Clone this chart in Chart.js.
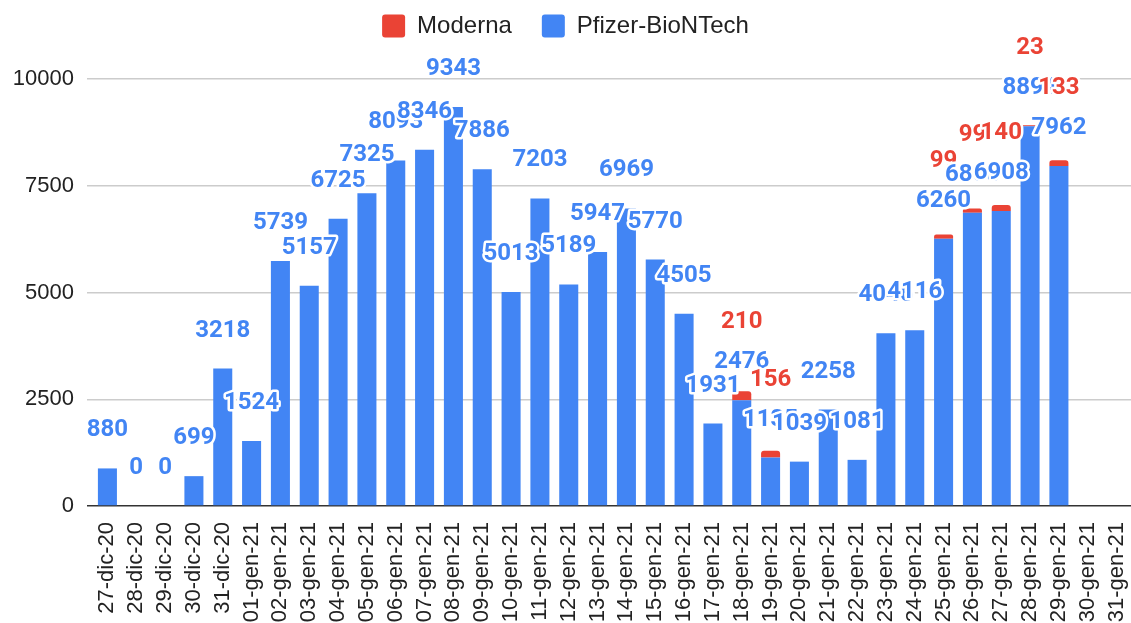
<!DOCTYPE html>
<html>
<head>
<meta charset="utf-8">
<script src="https://cdn.jsdelivr.net/npm/chart.js@4.4.1/dist/chart.umd.min.js"></script>
<style>
  html, body { margin: 0; padding: 0; background: #fff; }
  #wrap { width: 1131px; height: 623px; }
</style>
</head>
<body>
<div id="wrap"><canvas id="chart_vaccini"></canvas></div>
<script>
const giorni = ['27-dic-20', '28-dic-20', '29-dic-20', '30-dic-20', '31-dic-20',
    '01-gen-21', '02-gen-21', '03-gen-21', '04-gen-21', '05-gen-21', '06-gen-21', '07-gen-21',
    '08-gen-21', '09-gen-21', '10-gen-21', '11-gen-21', '12-gen-21', '13-gen-21', '14-gen-21',
    '15-gen-21', '16-gen-21', '17-gen-21', '18-gen-21', '19-gen-21', '20-gen-21', '21-gen-21',
    '22-gen-21', '23-gen-21', '24-gen-21', '25-gen-21', '26-gen-21', '27-gen-21', '28-gen-21',
    '29-gen-21', '30-gen-21', '31-gen-21'];

const pfizer = [880, 0, 0, 699, 3218, 1524, 5739, 5157, 6725, 7325, 8093, 8346,
    9343, 7886, 5013, 7203, 5189, 5947, 6969, 5770, 4505, 1931, 2476, 1135,
    1039, 2258, 1081, 4046, 4116, 6260, 6868, 6908, 8894, 7962, null, null];

const moderna = [null, null, null, null, null, null, null, null, null, null, null, null,
    null, null, null, null, null, null, null, null, null, null, 210, 156,
    null, null, null, null, null, 99, 99, 140, 23, 133, null, null];

const yTicks = [0, 2500, 5000, 7500, 10000];

const BLU = '#4285F4';
const ROSSO = '#EA4335';

// spazio tra legenda e grafico
const legendaMargine = {
    id: 'legendaMargine',
    beforeInit(chart) {
        const fit = chart.legend.fit;
        chart.legend.fit = function () {
            fit.bind(chart.legend)();
            this.height += 31;
        };
    }
};

// etichette dei valori sopra le barre (bianco intorno come in Sheets)
const etichette = {
    id: 'etichette',
    afterDatasetsDraw(chart) {
        const ctx = chart.ctx;
        const metaP = chart.getDatasetMeta(0);
        ctx.save();
        ctx.font = 'bold 24px Roboto';
        ctx.textAlign = 'center';
        ctx.textBaseline = 'middle';
        ctx.lineJoin = 'round';
        ctx.lineWidth = 5;
        ctx.strokeStyle = '#fff';
        pfizer.forEach((v, i) => {
            if (v === null) return;
            const bar = metaP.data[i];
            const x = bar.x;
            const y = bar.y - 38;
            ctx.strokeText(String(v), x, y);
            ctx.fillStyle = BLU;
            ctx.fillText(String(v), x, y);
            const m = moderna[i];
            if (m !== null) {
                ctx.strokeText(String(m), x, y - 40);
                ctx.fillStyle = ROSSO;
                ctx.fillText(String(m), x, y - 40);
            }
        });
        ctx.restore();
    }
};

new Chart(document.getElementById('chart_vaccini'), {
    type: 'bar',
    data: {
        labels: giorni,
        datasets: [{
            label: 'Pfizer-BioNTech',
            data: pfizer,
            backgroundColor: BLU,
            barPercentage: 0.66,
            categoryPercentage: 1
        }, {
            label: 'Moderna',
            data: moderna,
            backgroundColor: ROSSO,
            borderRadius: { topLeft: 3, topRight: 3 },
            borderSkipped: 'bottom',
            barPercentage: 0.66,
            categoryPercentage: 1
        }]
    },
    plugins: [legendaMargine, etichette],
    options: {
        responsive: true,
        maintainAspectRatio: false,
        animation: false,
        layout: {
            padding: { top: -16, left: 0, right: 0, bottom: 0 }
        },
        plugins: {
            tooltip: { enabled: false },
            legend: {
                position: 'top',
                reverse: true,
                labels: {
                    boxWidth: 23,
                    boxHeight: 23,
                    useBorderRadius: true,
                    borderRadius: 3,
                    padding: 30,
                    color: '#222',
                    font: { family: 'Liberation Sans', size: 24 }
                }
            }
        },
        scales: {
            x: {
                stacked: true,
                grid: { display: false },
                border: { display: false },
                afterFit(scale) {
                    scale.height = 117;
                    scale.paddingLeft = 0;
                    scale.paddingRight = 0;
                },
                ticks: {
                    autoSkip: false,
                    minRotation: 90,
                    maxRotation: 90,
                    padding: 8,
                    color: '#222',
                    font: { family: 'Liberation Sans', size: 22 }
                }
            },
            y: {
                stacked: true,
                min: 0,
                max: 10000,
                afterBuildTicks(scale) {
                    scale.ticks = yTicks.map(v => ({ value: v }));
                },
                afterFit(scale) {
                    scale.width = 93;
                },
                border: { display: false },
                grid: {
                    tickLength: 6,
                    lineWidth: 1.5,
                    color: ctx => ctx.tick && ctx.tick.value === 0 ? '#333' : '#ccc'
                },
                ticks: {
                    padding: 13,
                    color: '#222',
                    font: { family: 'Liberation Sans', size: 22 },
                    callback: v => String(v)
                }
            }
        }
    }
});
</script>
</body>
</html>
